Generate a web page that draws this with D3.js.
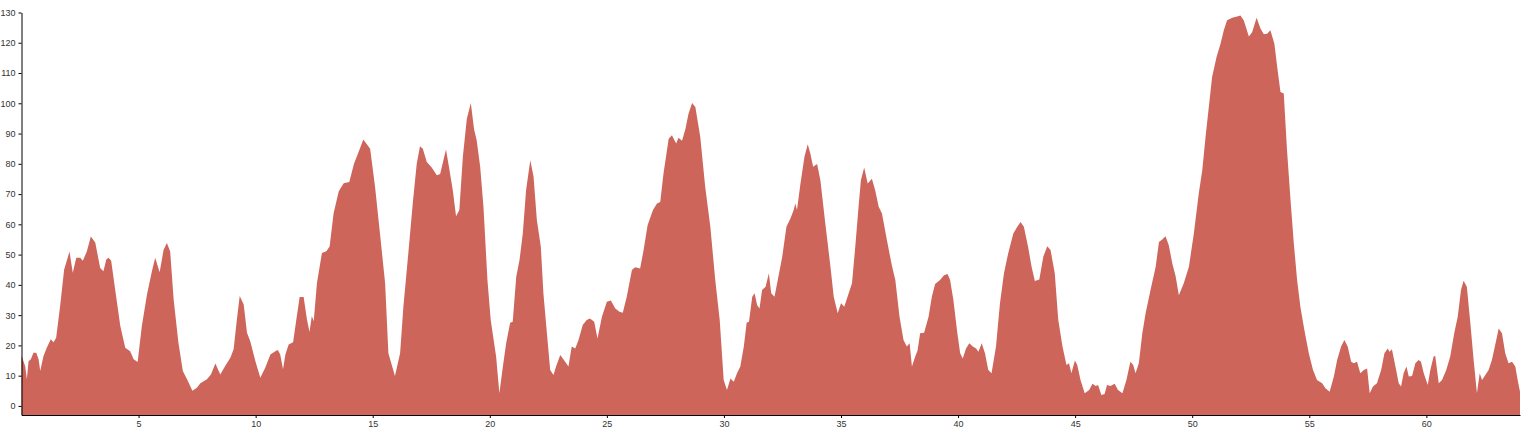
<!DOCTYPE html>
<html>
<head>
<meta charset="utf-8">
<script src="https://cdn.jsdelivr.net/npm/d3@7"></script>
<style>
  html, body { margin: 0; padding: 0; background: #fff; }
  svg { display: block; }
  .axis text { font-family: "Liberation Sans", Arial, sans-serif; font-size: 9px; fill: #333; }
  .axis path, .axis line { stroke: #000; }
</style>
</head>
<body>
<svg id="chart" width="1525" height="434"></svg>
<script>
const xValues = [
  0, 0.16, 0.23, 0.3, 0.4, 0.51, 0.63, 0.73, 0.8, 0.94, 1.08, 1.25, 1.37, 1.48, 1.65, 1.82, 2.05, 2.19, 2.34, 2.51,
  2.62, 2.79, 2.96, 3.15, 3.36, 3.5, 3.62, 3.72, 3.83, 4.0, 4.22, 4.43, 4.64, 4.79, 4.96, 5.14, 5.36, 5.57, 5.71, 5.9,
  6.07, 6.21, 6.35, 6.5, 6.7, 6.89, 7.07, 7.3, 7.49, 7.64, 7.92, 8.09, 8.28, 8.49, 8.7, 8.92, 9.06, 9.2, 9.32, 9.49,
  9.63, 9.77, 9.99, 10.2, 10.41, 10.63, 10.84, 10.95, 11.05, 11.17, 11.27, 11.41, 11.6, 11.74, 11.88, 12.05, 12.19, 12.3, 12.4, 12.48,
  12.62, 12.83, 13.02, 13.16, 13.33, 13.55, 13.76, 14.0, 14.2, 14.4, 14.6, 14.75, 14.89, 15.1, 15.31, 15.53, 15.67, 15.95, 16.17, 16.31,
  16.52, 16.71, 16.88, 17.02, 17.14, 17.31, 17.52, 17.74, 17.88, 18.02, 18.13, 18.27, 18.42, 18.56, 18.7, 18.85, 19.02, 19.19, 19.33, 19.44,
  19.59, 19.73, 19.9, 20.04, 20.27, 20.41, 20.56, 20.7, 20.87, 20.98, 21.13, 21.27, 21.41, 21.55, 21.73, 21.87, 22.01, 22.18, 22.29, 22.44,
  22.58, 22.72, 22.83, 23.01, 23.22, 23.36, 23.5, 23.65, 23.79, 23.97, 24.14, 24.28, 24.46, 24.6, 24.79, 25.0, 25.17, 25.36, 25.54, 25.68,
  25.85, 26.07, 26.21, 26.42, 26.57, 26.74, 26.97, 27.14, 27.28, 27.42, 27.64, 27.78, 27.96, 28.06, 28.21, 28.35, 28.49, 28.64, 28.78, 28.99,
  29.2, 29.42, 29.63, 29.82, 29.99, 30.13, 30.28, 30.42, 30.56, 30.7, 30.85, 30.97, 31.07, 31.21, 31.31, 31.42, 31.52, 31.63, 31.78, 31.92,
  32.02, 32.16, 32.3, 32.49, 32.67, 32.84, 32.98, 33.05, 33.12, 33.27, 33.44, 33.58, 33.69, 33.81, 33.98, 34.12, 34.33, 34.55, 34.69, 34.86,
  35.0, 35.14, 35.28, 35.47, 35.61, 35.75, 35.85, 35.99, 36.14, 36.32, 36.46, 36.61, 36.75, 36.96, 37.17, 37.32, 37.5, 37.67, 37.81, 37.93,
  38.03, 38.17, 38.27, 38.38, 38.55, 38.74, 38.88, 39.02, 39.23, 39.4, 39.55, 39.66, 39.8, 39.97, 40.09, 40.2, 40.34, 40.48, 40.63, 40.77,
  40.87, 41.01, 41.15, 41.29, 41.43, 41.62, 41.79, 41.96, 42.14, 42.36, 42.53, 42.67, 42.81, 42.99, 43.14, 43.28, 43.47, 43.64, 43.81, 43.95,
  44.13, 44.28, 44.46, 44.63, 44.74, 44.84, 44.99, 45.09, 45.23, 45.41, 45.6, 45.74, 45.88, 45.98, 46.12, 46.26, 46.36, 46.51, 46.69, 46.83,
  47.02, 47.19, 47.36, 47.48, 47.58, 47.72, 47.87, 48.01, 48.22, 48.44, 48.58, 48.72, 48.86, 49.0, 49.15, 49.29, 49.43, 49.64, 49.86, 50.07,
  50.28, 50.43, 50.57, 50.71, 50.85, 51.04, 51.21, 51.35, 51.49, 51.71, 51.92, 52.06, 52.2, 52.42, 52.56, 52.75, 52.92, 53.06, 53.2, 53.34,
  53.51, 53.63, 53.77, 53.91, 54.05, 54.2, 54.34, 54.48, 54.62, 54.79, 54.98, 55.16, 55.33, 55.55, 55.69, 55.87, 56.05, 56.19, 56.36, 56.5,
  56.64, 56.79, 56.9, 57.04, 57.18, 57.33, 57.47, 57.58, 57.72, 57.89, 58.07, 58.21, 58.35, 58.43, 58.53, 58.68, 58.82, 58.92, 59.03, 59.15,
  59.25, 59.39, 59.53, 59.67, 59.77, 59.89, 60.06, 60.17, 60.31, 60.38, 60.53, 60.67, 60.85, 61.02, 61.19, 61.34, 61.48, 61.59, 61.73, 61.88,
  62.02, 62.16, 62.28, 62.38, 62.52, 62.66, 62.8, 62.94, 63.09, 63.23, 63.37, 63.51, 63.66, 63.8, 63.9, 64.0
];
const yValues = [
  16.7, 13, 8.8, 14.8, 15.4, 17.6, 17.6, 15.4, 11.5, 16.5, 19.2, 22, 21, 22.5, 33, 45, 51, 44, 49, 49,
  48, 51, 56, 54, 45.6, 44.5, 48.4, 49, 48, 38.5, 26.4, 19.2, 18.1, 15.4, 14.5, 26.4, 36.8, 44.5, 49, 44.2,
  51.6, 53.8, 51, 35, 21, 11.5, 8.8, 5, 6, 7.5, 8.8, 10.4, 14, 10.4, 13.2, 15.9, 18.7, 28.6, 36.3, 33.5,
  24.2, 21.4, 14.8, 9.3, 12.6, 17, 18.1, 18.5, 17, 12.1, 17, 20.3, 21, 28.6, 36, 36, 28.6, 24.4, 29.7, 28,
  40.7, 50.5, 51.1, 52.7, 63.7, 70.9, 73.6, 74, 80, 84, 88, 86.5, 85, 72.4, 57, 40.5, 17.4, 9.9, 17.4, 32.8,
  50.4, 66.9, 80, 85.8, 85, 80.6, 78.8, 76.2, 76.6, 81.2, 84.7, 78.4, 71.3, 62.7, 64.7, 82.3, 94.9, 100.1, 91.3, 87.8,
  79, 65.8, 41.6, 28.4, 16.3, 4.2, 13, 20.7, 27.5, 27.8, 42.7, 48.2, 57, 71.3, 81.2, 75.7, 61.4, 52.6, 37.2, 24,
  11.9, 10.2, 13, 16.8, 14.6, 13, 19.6, 19, 21.8, 26.7, 28.4, 28.9, 27.8, 22.3, 29.5, 34.4, 34.8, 32.2, 31.1, 30.8,
  36.1, 44.9, 45.8, 45.4, 51.5, 59.7, 64.7, 66.9, 67.4, 76.8, 88.3, 89.4, 86.7, 88.6, 87.6, 91.3, 96.6, 100.1, 98.8, 88.9,
  72.4, 59.2, 41.6, 28.4, 8.6, 5.3, 9.1, 8, 10.8, 13, 19.6, 27.5, 27.8, 36.1, 37.2, 33.3, 32.2, 38.3, 39.4, 43.8,
  37.2, 36.1, 41.6, 49.3, 59.2, 61.9, 64.7, 66.9, 64.7, 73.5, 82.3, 86.5, 83.4, 79, 79.9, 74.6, 60.3, 46, 36.1, 30.6,
  33.9, 32.8, 36.1, 40.5, 52.6, 65.8, 74.6, 78.8, 73.5, 75.1, 71.3, 65.8, 63.6, 54.8, 46.5, 41.6, 29.5, 21.8, 19.6, 20.7,
  13, 16.3, 18.3, 24, 24.2, 29.5, 36.1, 40.3, 41.6, 43.2, 43.6, 41.6, 35, 24, 17.4, 15.7, 19, 20.7, 19.6, 19,
  17.9, 20.7, 17.4, 11.9, 10.8, 19.6, 33.9, 43.8, 50.4, 57, 59.2, 60.8, 59.2, 52.6, 46, 41.3, 41.8, 49.3, 52.8, 51.5,
  43.8, 28.4, 19.6, 13.5, 14.1, 10.8, 15, 13.5, 8.6, 4.2, 5.3, 7.3, 6.6, 6.9, 3.6, 3.9, 6.9, 6.6, 7.3, 5.3,
  4.2, 8.6, 14.6, 13.5, 10.8, 14.1, 24, 30.6, 38.3, 46, 54.2, 55, 56.1, 53.1, 47.1, 42.9, 36.6, 40.5, 46, 57,
  70.2, 77.9, 88.9, 98.8, 108.7, 115.3, 119.7, 124.1, 127.4, 128.3, 128.7, 129, 127.4, 122.1, 123.5, 128.3, 124.6, 122.8, 123, 124.1,
  119.7, 112, 103.7, 103.2, 84.5, 68, 53.7, 41.6, 32.8, 25.1, 17.4, 11.9, 8.6, 7.5, 5.8, 4.7, 9.7, 15.2, 19.6, 21.8,
  19.6, 14.6, 14.1, 14.6, 10.8, 11.9, 12.4, 4.2, 6.4, 7.5, 11.9, 17.4, 19, 17.9, 18.7, 13, 7.5, 6.4, 10.8, 13,
  9.7, 9.9, 14.1, 15.2, 14.6, 10.8, 6.9, 11.9, 16.3, 16.5, 7.5, 8.6, 11.9, 16.3, 24, 29.5, 38.3, 41.4, 39.4, 27.3,
  15.2, 4.2, 10.8, 8.6, 10.2, 11.9, 15.2, 20.1, 25.6, 24, 17.4, 14.1, 14.6, 13, 8.6, 4.7
];
const xTicks = [5, 10, 15, 20, 25, 30, 35, 40, 45, 50, 55, 60];
const yTicks = [0, 10, 20, 30, 40, 50, 60, 70, 80, 90, 100, 110, 120, 130];

const data = xValues.map((x, i) => ({ x: x, y: yValues[i] }));

const svg = d3.select("#chart");
const x = d3.scaleLinear().domain([0, 64]).range([21.5, 1520]);
const y = d3.scaleLinear().domain([-3, 130]).range([415, 12.5]);

const area = d3.area()
  .x(d => x(d.x))
  .y0(y(-3))
  .y1(d => y(d.y));

svg.append("path")
  .datum(data)
  .attr("fill", "#cd655a")
  .attr("d", area);

svg.append("g")
  .attr("class", "axis")
  .attr("transform", "translate(0,415)")
  .call(d3.axisBottom(x).tickValues(xTicks).tickSize(3).tickSizeOuter(0).tickPadding(3));

svg.append("g")
  .attr("class", "axis")
  .attr("transform", "translate(21.5,0)")
  .call(d3.axisLeft(y).tickValues(yTicks).tickSize(3).tickSizeOuter(0).tickPadding(3));
</script>
</body>
</html>
